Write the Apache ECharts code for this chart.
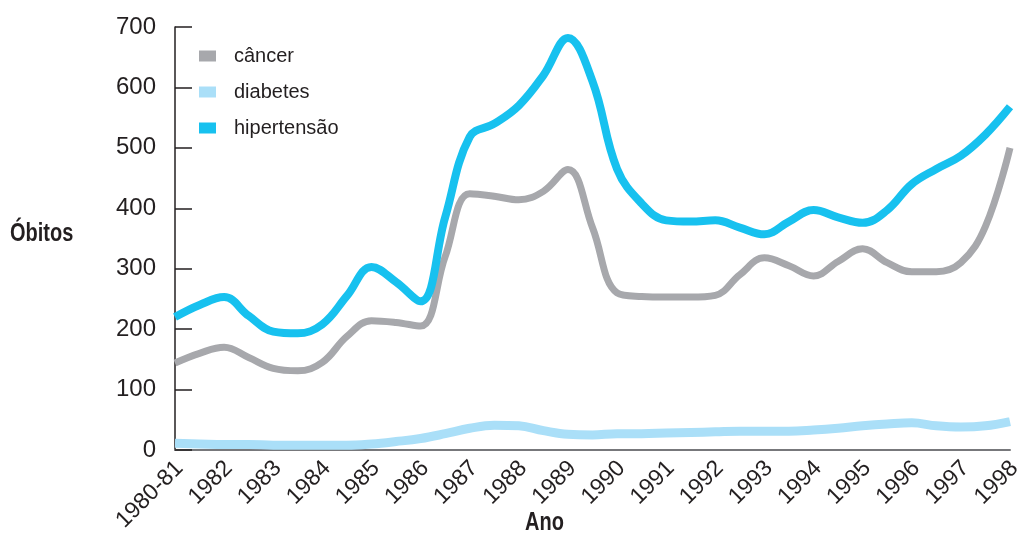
<!DOCTYPE html>
<html>
<head>
<meta charset="utf-8">
<script src="https://cdn.jsdelivr.net/npm/echarts@6/dist/echarts.min.js"></script>
<style>
  html, body { margin: 0; padding: 0; background: #ffffff; }
  #chart { width: 1026px; height: 533px; }
</style>
</head>
<body>
<div id="chart"></div>
<script>
// Year labels along the horizontal axis (one per unit step)
var years = ['1980-81', '1982', '1983', '1984', '1985', '1986', '1987', '1988', '1989',
             '1990', '1991', '1992', '1993', '1994', '1995', '1996', '1997', '1998'];

// Sample positions along the time axis, in half-year steps (0 = 1980-81, 17 = 1998)
var positions = [0, 0.5, 1, 1.5, 2, 2.5, 3, 3.5, 4, 4.5, 5, 5.5, 6, 6.5, 7, 7.5, 8, 8.5,
                 9, 9.5, 10, 10.5, 11, 11.5, 12, 12.5, 13, 13.5, 14, 14.5, 15, 15.5, 16, 16.5, 17];

// Deaths per cause at each position
var cancer = [144, 160, 170, 153, 135, 131, 145, 188, 214, 211, 205, 320, 424, 420, 414, 428, 464, 368,
              260, 254, 253, 253, 256, 290, 318, 305, 288, 312, 333, 310, 295, 295, 310, 370, 500];
var diabetes = [11, 10, 9, 9, 8, 8, 8, 8, 10, 14, 19, 27, 36, 41, 40, 32, 26, 25,
                27, 27, 28, 29, 30, 31, 31, 31, 33, 36, 40, 43, 45, 40, 38, 40, 47];
var hipertensao = [220, 240, 253, 222, 196, 193, 208, 255, 303, 278, 246, 385, 518, 540, 570, 620, 682, 610,
                   465, 408, 380, 378, 380, 368, 357, 378, 397, 385, 376, 397, 440, 465, 487, 522, 568];

var yTicks = [0, 100, 200, 300, 400, 500, 600, 700];

function pairs(values) {
  return positions.map(function (p, i) { return [p, values[i]]; });
}

var textColor = '#231f20';
var font = 'Liberation Sans, Arial, Helvetica, sans-serif';

var chart = echarts.init(document.getElementById('chart'), null, { renderer: 'canvas' });

var lineStyle = function (color, width) {
  return { color: color, width: width, cap: 'butt', join: 'round' };
};

chart.setOption({
  animation: false,
  backgroundColor: '#ffffff',
  grid: { left: 175, right: 16, top: 27, bottom: 83, containLabel: false, outerBoundsMode: 'none' },
  legend: {
    orient: 'vertical',
    left: 199,
    top: 46,
    padding: 0,
    itemWidth: 17,
    itemHeight: 11,
    itemGap: 16,
    icon: 'rect',
    textStyle: { fontFamily: font, fontSize: 20, color: textColor, padding: [0, 0, 0, 13] },
    data: ['câncer', 'diabetes', 'hipertensão']
  },
  xAxis: {
    type: 'value',
    min: 0,
    max: years.length - 1,
    interval: 1,
    axisLine: { show: true, lineStyle: { color: '#77787b', width: 2 } },
    axisTick: { show: false },
    splitLine: { show: false },
    axisLabel: {
      rotate: 45,
      margin: 10,
      verticalAlign: 'top',
      lineHeight: 13,
      fontFamily: font,
      fontSize: 23,
      color: textColor,
      formatter: function (v) { return years[Math.round(v)]; }
    }
  },
  yAxis: {
    type: 'value',
    min: yTicks[0],
    max: yTicks[yTicks.length - 1],
    interval: 100,
    axisLine: { show: true, lineStyle: { color: textColor, width: 1.5 } },
    axisTick: { show: true, inside: true, length: 17, lineStyle: { color: textColor, width: 1.5 } },
    splitLine: { show: false },
    axisLabel: { margin: 19, fontFamily: font, fontSize: 24, color: textColor }
  },
  graphic: [
    {
      type: 'text', x: 10, y: 222, scaleX: 0.8,
      style: { text: 'Óbitos', font: 'bold 25px ' + font, fill: textColor }
    },
    {
      type: 'text', x: 525, y: 511, scaleX: 0.8,
      style: { text: 'Ano', font: 'bold 25px ' + font, fill: textColor }
    }
  ],
  series: [
    {
      name: 'câncer', type: 'line', smooth: 0.4, showSymbol: false,
      itemStyle: { color: '#a7a8ac' }, lineStyle: lineStyle('#a7a8ac', 7),
      data: pairs(cancer), z: 2
    },
    {
      name: 'diabetes', type: 'line', smooth: 0.4, showSymbol: false,
      itemStyle: { color: '#aadff8' }, lineStyle: lineStyle('#aadff8', 9),
      data: pairs(diabetes), z: 1
    },
    {
      name: 'hipertensão', type: 'line', smooth: 0.4, showSymbol: false,
      itemStyle: { color: '#17c1ef' }, lineStyle: lineStyle('#17c1ef', 8),
      data: pairs(hipertensao), z: 3
    }
  ]
});
</script>
</body>
</html>
